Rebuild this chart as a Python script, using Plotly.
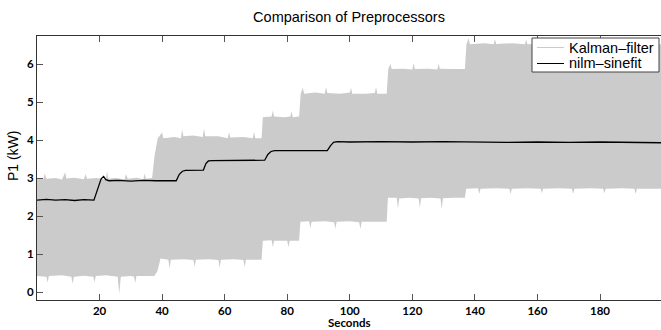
import plotly.graph_objects as go

# ---- data (seconds, kW) ----
# Kalman-filter: upper / lower envelope of the dense oscillating signal
kalman_upper = [
    (0, 3.0), (2, 2.97), (2.5, 3.12), (3, 2.98), (6, 3.0), (8, 2.96), (9, 3.15), (9.4, 2.99),
    (12, 3.01), (15, 2.97), (15.5, 3.1), (16, 2.98), (19, 3.0), (22, 2.96), (22.4, 3.18), (22.8, 2.98),
    (25, 3.0), (28, 2.97), (28.5, 3.1), (29, 2.98), (32, 3.01), (34, 2.96), (34.4, 3.12), (34.8, 2.98),
    (36.8, 3.0), (37.6, 3.6), (38.6, 4.05),
    (40, 4.2), (40.4, 4.05), (44, 4.08), (46, 4.05), (46.4, 4.28), (46.8, 4.1), (50, 4.12), (53, 4.08),
    (53.4, 4.3), (53.8, 4.1), (58, 4.1), (61, 4.05), (61.4, 4.2), (61.8, 4.07), (66, 4.08), (69, 4.05),
    (69.4, 4.22), (69.8, 4.05), (71.8, 4.05),
    (72.2, 4.6), (75, 4.62), (75.4, 4.78), (75.8, 4.62), (79, 4.6), (81, 4.62), (81.4, 4.75), (81.8, 4.6),
    (83.8, 4.62),
    (84.3, 5.22), (85, 5.38), (85.4, 5.22), (89, 5.25), (92, 5.22), (92.4, 5.4), (92.8, 5.24), (97, 5.22),
    (100, 5.25), (100.4, 5.38), (100.8, 5.22), (105, 5.22), (108, 5.24), (108.4, 5.4), (108.8, 5.22),
    (111.8, 5.22),
    (112.3, 5.87), (113, 6.0), (113.4, 5.87), (117, 5.88), (120, 5.86), (120.4, 6.02), (120.8, 5.87),
    (125, 5.88), (128, 5.86), (128.4, 6.0), (128.8, 5.88), (133, 5.87), (136.8, 5.87),
    (137.3, 6.52), (138, 6.68), (138.4, 6.52), (143, 6.55), (146, 6.52), (146.4, 6.66), (146.8, 6.53),
    (152, 6.55), (156, 6.52), (156.4, 6.64), (156.8, 6.52), (162, 6.54), (166, 6.52), (166.4, 6.66),
    (166.8, 6.52), (172, 6.55), (176, 6.52), (176.4, 6.64), (176.8, 6.52), (182, 6.54), (186, 6.52),
    (186.4, 6.66), (186.8, 6.52), (192, 6.54), (196, 6.52), (196.4, 6.62), (196.8, 6.52), (199.5, 6.52),
]
kalman_lower = [
    (0, 0.42), (3, 0.4), (3.4, 0.25), (3.8, 0.42), (8, 0.44), (11, 0.4), (11.4, 0.22), (11.8, 0.4),
    (15, 0.43), (18, 0.4), (18.4, 0.26), (18.8, 0.42), (22, 0.44), (25.8, 0.4), (26.3, -0.05), (26.8, 0.4),
    (30, 0.42), (31, 0.4), (31.4, 0.24), (31.8, 0.42), (35, 0.42), (37.5, 0.42),
    (38.5, 0.55), (39.5, 0.88),
    (42, 0.85), (42.4, 0.62), (42.8, 0.85), (47, 0.86), (50, 0.84), (50.4, 0.66), (50.8, 0.85),
    (55, 0.86), (58, 0.84), (58.4, 0.64), (58.8, 0.85), (63, 0.86), (66, 0.84), (66.4, 0.66),
    (66.8, 0.85), (71.8, 0.85),
    (72.2, 1.35), (75, 1.36), (75.4, 1.18), (75.8, 1.35), (79, 1.35), (80, 1.35), (80.4, 1.18),
    (80.8, 1.35), (83.8, 1.35),
    (84.2, 1.85), (87, 1.86), (87.4, 1.68), (87.8, 1.85), (92, 1.86), (95, 1.84), (95.4, 1.66),
    (95.8, 1.85), (100, 1.86), (103, 1.84), (103.4, 1.66), (103.8, 1.85), (108, 1.86), (111.8, 1.85),
    (112.2, 2.48), (115, 2.48), (115.4, 2.2), (115.8, 2.46), (119, 2.48), (122, 2.46), (122.4, 2.22),
    (122.8, 2.47), (126, 2.48), (129, 2.46), (129.4, 2.18), (129.8, 2.47), (133, 2.48), (136.8, 2.48),
    (137.2, 2.72), (141, 2.73), (141.4, 2.58), (141.8, 2.72), (147, 2.73), (151, 2.72), (151.4, 2.58),
    (151.8, 2.72), (157, 2.73), (161, 2.72), (161.4, 2.6), (161.8, 2.72), (167, 2.73), (171, 2.72),
    (171.4, 2.58), (171.8, 2.72), (177, 2.73), (181, 2.72), (181.4, 2.6), (181.8, 2.72), (187, 2.73),
    (191, 2.72), (191.4, 2.58), (191.8, 2.72), (199.5, 2.72),
]
# nilm-sinefit
sinefit = [
    (0, 2.42), (3, 2.44), (6, 2.42), (9, 2.43), (12, 2.41), (15, 2.43), (18.2, 2.42), (19.5, 2.75),
    (20.5, 2.98), (21.3, 3.04), (22, 2.96), (23, 2.93), (26, 2.94), (30, 2.92), (34, 2.94), (38, 2.93),
    (42, 2.94), (44.5, 2.93), (45.5, 3.1), (46.5, 3.18), (47.5, 3.2), (50, 3.2), (53.2, 3.21),
    (54, 3.38), (54.8, 3.45), (56, 3.46), (60, 3.46), (64, 3.47), (68, 3.46), (72.8, 3.47), (73.8, 3.62),
    (74.8, 3.70), (76, 3.72), (80, 3.72), (84, 3.71), (88, 3.72), (92.8, 3.72), (93.8, 3.85), (94.8, 3.94),
    (96, 3.96), (100, 3.95), (110, 3.96), (120, 3.95), (130, 3.96), (140, 3.95), (150, 3.94), (160, 3.95),
    (170, 3.94), (180, 3.95), (190, 3.93), (199.5, 3.93),
]
series_names = ["Kalman–filter", "nilm–sinefit"]
x_ticks = [20, 40, 60, 80, 100, 120, 140, 160, 180]
y_ticks = [0, 1, 2, 3, 4, 5, 6]

up_t, up_v = zip(*kalman_upper)
lo_t, lo_v = zip(*kalman_lower)
sf_t, sf_v = zip(*sinefit)

GRAY = "#cbcbcb"
fig = go.Figure()
fig.add_trace(go.Scatter(x=lo_t, y=lo_v, mode="lines", line=dict(width=0, color=GRAY),
                         name=series_names[0], showlegend=False, hoverinfo="skip"))
fig.add_trace(go.Scatter(x=up_t, y=up_v, mode="lines", line=dict(width=0, color=GRAY),
                         fill="tonexty", fillcolor=GRAY, name=series_names[0], showlegend=False))
fig.add_trace(go.Scatter(x=sf_t, y=sf_v, mode="lines", name=series_names[1], showlegend=False,
                         line=dict(color="black", width=1.3)))

# legend box (MATLAB style, inside the axes, north-east), in plot-pixel terms
W, H, L, T = 624, 264, 37, 36
def px(x):
    return (x - L) / W
def py(y):
    return (T + H - y) / H

shapes = [
    dict(type="rect", xref="paper", yref="paper", x0=px(532), x1=px(659), y0=py(38), y1=py(72),
         fillcolor="white", line=dict(color="#444", width=1), layer="above"),
    dict(type="line", xref="paper", yref="paper", x0=px(537), x1=px(564), y0=py(47.5), y1=py(47.5),
         line=dict(color=GRAY, width=1), layer="above"),
    dict(type="line", xref="paper", yref="paper", x0=px(537), x1=px(564), y0=py(63.5), y1=py(63.5),
         line=dict(color="black", width=1), layer="above"),
]
legend_font = dict(family="Liberation Sans", size=14.5, color="black")
annotations = [
    dict(text=series_names[0], xref="paper", yref="paper", x=px(567), y=py(47.5), xanchor="left",
         yanchor="middle", showarrow=False, font=legend_font),
    dict(text=series_names[1], xref="paper", yref="paper", x=px(567), y=py(63.5), xanchor="left",
         yanchor="middle", showarrow=False, font=legend_font),
    dict(text="P1 (kW)", xref="paper", yref="paper", x=px(13), y=0.545,
         xanchor="center", yanchor="middle", textangle=-90, showarrow=False,
         font=dict(family="Liberation Sans", size=14, color="black")),
    dict(text="Seconds", xref="paper", yref="paper", x=0.5, y=py(322),
         xanchor="center", yanchor="middle", showarrow=False,
         font=dict(family="Lato", size=11.5, color="black", weight="bold")),
]

tickfont = dict(family="Lato", size=11.5, color="black", weight="bold")
fig.update_layout(
    width=661, height=330,
    margin=dict(l=37, r=0, t=36, b=30),
    paper_bgcolor="white", plot_bgcolor="white",
    showlegend=False,
    title=dict(text="Comparison of Preprocessors", x=0.528, xanchor="center", y=1 - 17 / 330,
               yanchor="middle", font=dict(family="Liberation Sans", size=14.5, color="black")),
    xaxis=dict(range=[0, 199.5], tickvals=x_ticks, ticks="inside", ticklen=6, tickcolor="#555",
               showline=True, linecolor="#333", linewidth=1, mirror="ticks", showgrid=False,
               zeroline=False, tickfont=tickfont),
    yaxis=dict(range=[-0.21, 6.74], tickvals=y_ticks, ticks="inside", ticklen=6, tickcolor="#555",
               showline=True, linecolor="#333", linewidth=1, mirror=False, showgrid=False,
               zeroline=False, tickfont=tickfont),
    shapes=shapes,
    annotations=annotations,
)
fig.write_html("out.html")
